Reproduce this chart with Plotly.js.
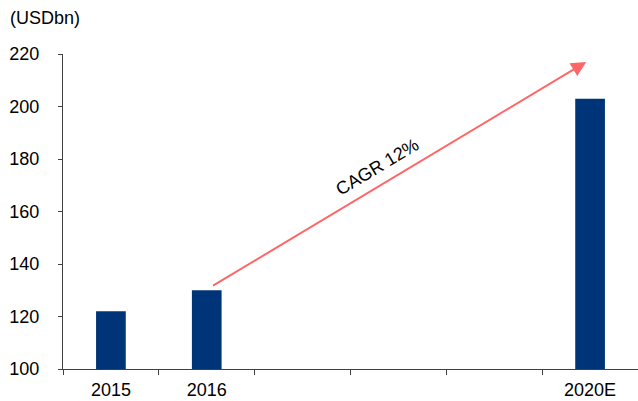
<!DOCTYPE html>
<html>
<head>
<meta charset="utf-8">
<script src="https://cdn.plot.ly/plotly-3.0.1.min.js"></script>
<style>
  html, body { margin: 0; padding: 0; background: #fff; }
  #chart { width: 638px; height: 401px; }
</style>
</head>
<body>
<div id="chart"></div>
<script>
// Market size by year (USD bn); 2017-2019 left empty on the axis
const categories = ['2015', '2016', '2017', '2018', '2019', '2020E'];
const tickLabels = ['2015', '2016', '', '', '', '2020E'];
const marketSize = [122, 130, null, null, null, 203];

// CAGR arrow from the 2016 bar towards the 2020E forecast
const arrowStart = { x: 1.05, y: 131.4 };
const arrowEnd = { x: 4.96, y: 217 };
const cagrLabel = 'CAGR 12%';
const cagrLabelPos = { x: 2.78, y: 176.8 };

const FONT = 'Liberation Sans, Arial, sans-serif';
const AXIS_COLOR = '#404040';
const FS = 18;

const trace = {
  type: 'bar',
  x: categories,
  y: marketSize,
  width: 0.31,
  marker: { color: '#003478', line: { width: 0 } },
  hoverinfo: 'skip'
};

const layout = {
  width: 638,
  height: 401,
  margin: { l: 63, r: 0, t: 54, b: 32 },
  paper_bgcolor: '#fff',
  plot_bgcolor: '#fff',
  showlegend: false,
  font: { family: FONT, size: FS, color: '#000' },
  title: {
    text: '(USDbn)',
    xref: 'container', yref: 'container',
    x: 10 / 638, xanchor: 'left',
    y: 1 - 18 / 401, yanchor: 'middle',
    font: { family: FONT, size: FS, color: '#000' }
  },
  xaxis: {
    type: 'category',
    categoryorder: 'array',
    categoryarray: categories,
    tickmode: 'array',
    tickvals: categories,
    ticktext: tickLabels,
    tickson: 'boundaries',
    ticks: 'outside',
    ticklen: 5,
    tickcolor: AXIS_COLOR,
    tickwidth: 1,
    showline: true,
    linecolor: AXIS_COLOR,
    linewidth: 1,
    showgrid: false,
    zeroline: false,
    ticklabelstandoff: 4,
    tickfont: { family: FONT, size: FS, color: '#000' },
    range: [-0.5, 5.5],
    fixedrange: true
  },
  yaxis: {
    range: [100, 220],
    dtick: 20,
    tick0: 100,
    ticks: 'outside',
    ticklen: 4,
    tickcolor: AXIS_COLOR,
    tickwidth: 1,
    showline: true,
    linecolor: AXIS_COLOR,
    linewidth: 1,
    showgrid: false,
    zeroline: false,
    ticklabelstandoff: 15,
    tickfont: { family: FONT, size: FS, color: '#000' },
    fixedrange: true
  },
  annotations: [
    {
      xref: 'x', yref: 'y', axref: 'x', ayref: 'y',
      x: arrowEnd.x, y: arrowEnd.y,
      ax: arrowStart.x, ay: arrowStart.y,
      text: '',
      showarrow: true,
      arrowhead: 2,
      arrowsize: 1.5,
      arrowwidth: 2,
      arrowcolor: '#FF6666'
    },
    {
      xref: 'x', yref: 'y',
      x: cagrLabelPos.x, y: cagrLabelPos.y,
      text: cagrLabel,
      showarrow: false,
      textangle: -31,
      font: { family: FONT, size: FS, color: '#000' }
    }
  ]
};

Plotly.newPlot('chart', [trace], layout, { displayModeBar: false, staticPlot: true });
</script>
</body>
</html>
